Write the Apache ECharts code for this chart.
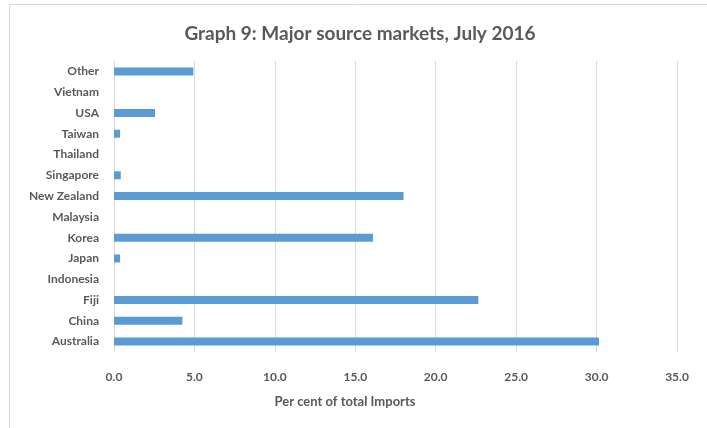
<!DOCTYPE html>
<html><head><meta charset="utf-8">
<script src="https://cdn.jsdelivr.net/npm/echarts@6/dist/echarts.min.js"></script>
<style>html,body{margin:0;padding:0;background:#fff}#c{width:707px;height:428px}</style>
</head><body><div id="c"></div>
<script>
const categories = ['Australia','China','Fiji','Indonesia','Japan','Korea','Malaysia','New Zealand','Singapore','Thailand','Taiwan','USA','Vietnam','Other'];
const values = [30.15, 4.25, 22.65, 0, 0.38, 16.1, 0, 18.0, 0.42, 0, 0.38, 2.55, 0, 4.93];
const xTicks = [0, 5, 10, 15, 20, 25, 30, 35];

const chart = echarts.init(document.getElementById('c'));
const font = 'Lato, "Open Sans", sans-serif';
chart.setOption({
  animation: false,
  title: {
    text: 'Graph 9: Major source markets, July 2016',
    left: 355, top: 19, textAlign: 'center',
    textStyle: { fontFamily: font, fontWeight: 'bold', fontSize: 19, color: '#595959' }
  },
  graphic: [
    { type: 'rect', left: 7, top: 2, shape: { width: 720, height: 440 }, style: { fill: 'none', stroke: '#d9d9d9', lineWidth: 1 }, z: -1 },
    { type: 'text', x: 345, y: 402, style: { text: 'Per cent of total Imports', align: 'center', verticalAlign: 'middle', fontFamily: font, fontWeight: 'bold', fontSize: 13, fill: '#595959' } }
  ],
  grid: { left: 114, right: 30, top: 61, bottom: 76, containLabel: false },
  xAxis: {
    type: 'value', min: xTicks[0], max: xTicks[xTicks.length - 1], interval: 5,
    axisLine: { show: false }, axisTick: { show: false },
    splitLine: { show: true, lineStyle: { color: '#d9d9d9', width: 1 } },
    axisLabel: { margin: 19, formatter: v => v.toFixed(1), fontFamily: font, fontWeight: 'bold', fontSize: 12, color: '#595959' }
  },
  yAxis: {
    type: 'category', data: categories,
    axisLine: { show: false }, axisTick: { show: false },
    axisLabel: { margin: 15, fontFamily: font, fontWeight: 'bold', fontSize: 12, color: '#595959' }
  },
  series: [{
    type: 'bar', data: values, barWidth: 8,
    itemStyle: { color: '#5b9bd5' }
  }]
});
</script></body></html>
